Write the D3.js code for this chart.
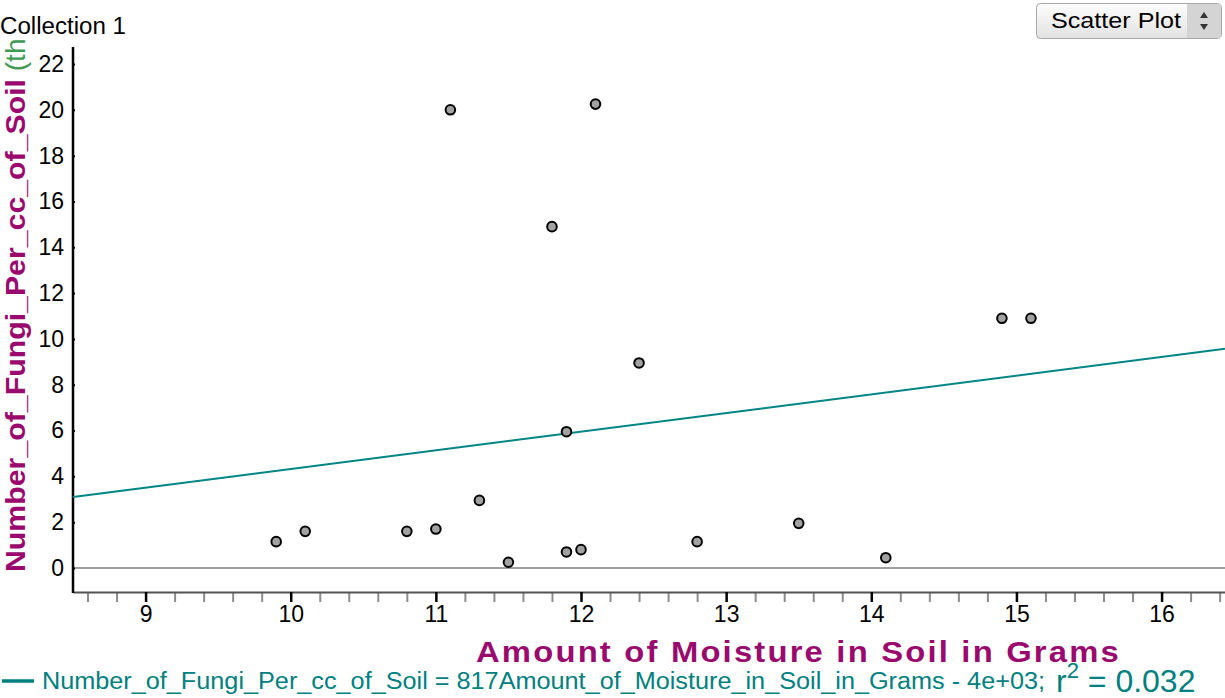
<!DOCTYPE html>
<html>
<head>
<meta charset="UTF-8">
<title>Collection 1</title>
<script src="https://cdn.jsdelivr.net/npm/d3@7"></script>
<style>
html, body { margin: 0; padding: 0; background: white; }
svg { font-family: 'Liberation Sans', Arial, sans-serif; display: block; }
</style>
</head>
<body>
<script>
// moisture (grams) vs fungi per cc of soil
var moisture = [9.9, 10.1, 10.8, 11.0, 11.1, 11.3, 11.5, 11.8, 11.9, 11.9, 12.0, 12.1, 12.4, 12.8, 13.5, 14.1, 14.9, 15.1];
var fungi    = [1.15, 1.6, 1.6, 1.7, 20.0, 2.95, 0.25, 14.9, 0.7, 5.95, 0.8, 20.25, 8.95, 1.15, 1.95, 0.45, 10.9, 10.9];

// least squares line as drawn
var lineSlope = 0.815, lineIntercept = -3.83;
var xTicks = [9, 10, 11, 12, 13, 14, 15, 16];
var yTicks = [0, 2, 4, 6, 8, 10, 12, 14, 16, 18, 20, 22];

var W = 1225, H = 698;
var svg = d3.select("body").append("svg")
    .attr("width", W)
    .attr("height", H);
var defs = svg.append("defs");

var x = d3.scaleLinear().domain([8.5, 16.437]).range([73, 1225]);
var y = d3.scaleLinear().domain([0, 22]).range([568, 64]);
var axisY = 592;

// zero line
svg.append("line")
    .attr("x1", 73).attr("x2", W)
    .attr("y1", y(0)).attr("y2", y(0))
    .attr("stroke", "#a0a0a0").attr("stroke-width", 2);

// x axis: minor ticks first
var minor = d3.range(8.6, 16.45, 0.2).filter(function(v){ return Math.abs(v - Math.round(v)) > 0.01; });
var gMinor = svg.append("g")
    .attr("transform", "translate(0," + axisY + ")")
    .call(d3.axisBottom(x).tickValues(minor).tickFormat("").tickSize(10).tickSizeOuter(0));
gMinor.select(".domain").remove();
gMinor.selectAll(".tick line").attr("stroke", "#8c8c8c").attr("stroke-width", 2);

var gx = svg.append("g")
    .attr("transform", "translate(0," + axisY + ")")
    .call(d3.axisBottom(x).tickValues(xTicks).tickSize(10).tickSizeOuter(0).tickPadding(4));
gx.select(".domain").attr("stroke", "#555").attr("stroke-width", 2);
gx.selectAll(".tick line").attr("stroke", "#000").attr("stroke-width", 2.5);
gx.selectAll(".tick text")
    .attr("fill", "#000")
    .style("font-size", "23px")
    .style("font-family", "'Liberation Sans', Arial, sans-serif");

// y axis
var gy = svg.append("g")
    .attr("transform", "translate(73,0)")
    .call(d3.axisLeft(y).tickValues(yTicks).tickSize(7).tickSizeOuter(0).tickPadding(2));
gy.select(".domain").remove();
gy.selectAll(".tick line").attr("stroke", "#000").attr("stroke-width", 2).attr("x2", 2);
gy.selectAll(".tick text")
    .attr("fill", "#000")
    .style("font-size", "23px")
    .style("font-family", "'Liberation Sans', Arial, sans-serif");
svg.append("line")
    .attr("x1", 73).attr("x2", 73)
    .attr("y1", 47).attr("y2", axisY + 1)
    .attr("stroke", "#000").attr("stroke-width", 2.5);

// regression line
var x0 = x.domain()[0], x1 = x.domain()[1];
svg.append("line")
    .attr("x1", x(x0)).attr("y1", y(lineSlope * x0 + lineIntercept))
    .attr("x2", x(x1)).attr("y2", y(lineSlope * x1 + lineIntercept))
    .attr("stroke", "#008585").attr("stroke-width", 2);

// points
svg.append("g").selectAll("circle")
    .data(moisture)
    .join("circle")
    .attr("cx", function(d){ return x(d); })
    .attr("cy", function(d, i){ return y(fungi[i]); })
    .attr("r", 4.8)
    .attr("fill", "#a2a2a2")
    .attr("stroke", "#000")
    .attr("stroke-width", 2);

// y title (cut at the top like the original)
defs.append("clipPath").attr("id", "ytclip")
    .append("rect").attr("x", 0).attr("y", 40).attr("width", 40).attr("height", 560);
var yt = svg.append("g").attr("clip-path", "url(#ytclip)")
    .append("text")
    .attr("transform", "translate(25,572) rotate(-90)")
    .attr("font-size", 28)
    .attr("font-weight", "bold");
yt.append("tspan")
    .attr("fill", "#9a0a6e")
    .attr("textLength", 493)
    .attr("lengthAdjust", "spacingAndGlyphs")
    .text("Number_of_Fungi_Per_cc_of_Soil");
yt.append("tspan")
    .attr("fill", "#3f9a55")
    .attr("font-weight", "normal")
    .text(" (thousands)");

// x title
svg.append("text")
    .attr("x", 476).attr("y", 662)
    .attr("fill", "#9a0a6e")
    .attr("font-size", 30)
    .attr("font-weight", "bold")
    .attr("letter-spacing", 2)
    .attr("textLength", 645)
    .attr("lengthAdjust", "spacingAndGlyphs")
    .text("Amount of Moisture in Soil in Grams");

// Collection label
svg.append("text")
    .attr("x", 0).attr("y", 34)
    .attr("fill", "#000")
    .attr("font-size", 23)
    .attr("textLength", 126)
    .attr("lengthAdjust", "spacingAndGlyphs")
    .text("Collection 1");

// equation legend
svg.append("line")
    .attr("x1", 2).attr("x2", 34)
    .attr("y1", 681).attr("y2", 681)
    .attr("stroke", "#008080").attr("stroke-width", 3.5);
svg.append("text")
    .attr("x", 42).attr("y", 689)
    .attr("fill", "#008080")
    .attr("font-size", 23)
    .attr("textLength", 1003)
    .attr("lengthAdjust", "spacingAndGlyphs")
    .text("Number_of_Fungi_Per_cc_of_Soil = 817Amount_of_Moisture_in_Soil_in_Grams - 4e+03;");
var r2 = svg.append("text")
    .attr("x", 1056).attr("y", 692)
    .attr("fill", "#008080")
    .attr("font-size", 32);
r2.append("tspan").text("r");
r2.append("tspan").attr("dy", -14).attr("font-size", 22).text("2");
r2.append("tspan").attr("dy", 14).text(" = 0.032");

// Scatter Plot menu
var grad = defs.append("linearGradient")
    .attr("id", "btn").attr("x1", 0).attr("y1", 0).attr("x2", 0).attr("y2", 1);
grad.append("stop").attr("offset", "0%").attr("stop-color", "#fdfdfd");
grad.append("stop").attr("offset", "100%").attr("stop-color", "#e2e2e2");
var btn = svg.append("g");
btn.append("rect")
    .attr("x", 1036.5).attr("y", 3.5).attr("width", 185).attr("height", 35).attr("rx", 4)
    .attr("fill", "url(#btn)").attr("stroke", "#a8a8a8");
btn.append("rect")
    .attr("x", 1187).attr("y", 4).attr("width", 34).attr("height", 34)
    .attr("fill", "#d4d4d4");
btn.append("text")
    .attr("x", 1051).attr("y", 28)
    .attr("font-size", 22)
    .attr("fill", "#000")
    .attr("textLength", 130)
    .attr("lengthAdjust", "spacingAndGlyphs")
    .text("Scatter Plot");
btn.append("path").attr("d", "M1200,18 L1208,18 L1204,12 Z").attr("fill", "#333");
btn.append("path").attr("d", "M1200,24 L1208,24 L1204,30 Z").attr("fill", "#333");
</script>
</body>
</html>
